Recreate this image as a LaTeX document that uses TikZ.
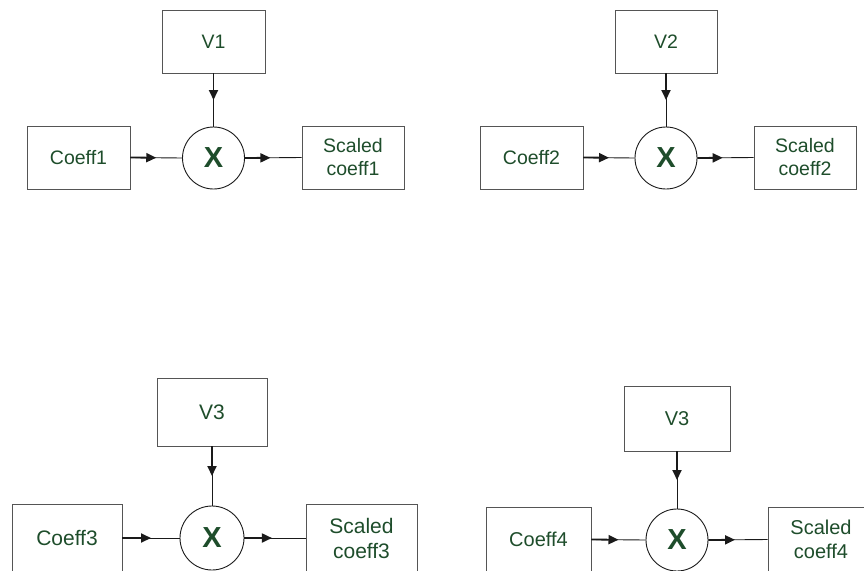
\documentclass[tikz,border=0pt]{standalone}
\usepackage{fontspec}
\setmainfont{Liberation Sans}
\usetikzlibrary{arrows.meta,calc}
\definecolor{labelgreen}{HTML}{1E4D2B}
\definecolor{framegray}{HTML}{555555}
\definecolor{wire}{HTML}{1A1A1A}
\tikzset{
  blk/.style args={#1x#2}{draw=framegray, line width=0.9pt, minimum width=#1pt,
    minimum height=#2pt, inner sep=0pt, text=labelgreen, align=center},
  mult/.style={circle, draw=wire, line width=0.9pt, minimum size=#1pt, inner sep=0pt,
    text=labelgreen, font=\bfseries\fontsize{29}{29}\selectfont},
  txtA/.style={font=\fontsize{19.5}{23}\selectfont},
  txtB/.style={font=\fontsize{21}{25}\selectfont},
  txtC/.style={font=\fontsize{20}{24}\selectfont},
  thinwire/.style={draw=wire, line width=0.9pt},
  thickwire/.style={draw=wire, line width=1.8pt, -{Triangle[length=10pt,width=9pt]}}
}
% signal line: thin all the way, heavier with a tip up to the given fraction
\newcommand\feedline[3]{%
  \draw[thinwire] (#1) -- (#2);
  \draw[thickwire] (#1) -- ($(#1)!#3!(#2)$);}

\begin{document}
\begin{tikzpicture}[x=1pt, y=-1pt]
\useasboundingbox (0,0) rectangle (864,570);
\clip (0,0) rectangle (864,570);

% multiplier 1
\node[blk=103x63, txtA] (v1) at (213.5,41.5) {V1};
\node[blk=103x63, txtA] (c1) at (78.5,157.5) {Coeff1};
\node[mult=62] (m1) at (213.5,158) {X};
\node[blk=102x63, txtA] (s1) at (353,157.5) {Scaled\\coeff1};
\feedline{v1.south}{m1.north}{0.5}
\feedline{c1.east}{m1.west}{0.5}
\feedline{m1.east}{s1.west}{0.45}

% multiplier 2
\node[blk=102x63, txtA] (v2) at (666,41.5) {V2};
\node[blk=103x63, txtA] (c2) at (531.5,157.5) {Coeff2};
\node[mult=62] (m2) at (666,158) {X};
\node[blk=102x63, txtA] (s2) at (805,157.5) {Scaled\\coeff2};
\feedline{v2.south}{m2.north}{0.5}
\feedline{c2.east}{m2.west}{0.5}
\feedline{m2.east}{s2.west}{0.45}

% multiplier 3
\node[blk=110x68, txtB] (v3) at (212,412) {V3};
\node[blk=110x68, txtB] (c3) at (67,538) {Coeff3};
\node[mult=64] (m3) at (212,538) {X};
\node[blk=111x68, txtB] (s3) at (361.5,538) {Scaled\\coeff3};
\feedline{v3.south}{m3.north}{0.5}
\feedline{c3.east}{m3.west}{0.5}
\feedline{m3.east}{s3.west}{0.45}

% multiplier 4
\node[blk=106x65, txtC] (v4) at (677,418.5) {V3};
\node[blk=105x65, txtC] (c4) at (538.5,539.5) {Coeff4};
\node[mult=62] (m4) at (677,540) {X};
\node[blk=106x65, txtC] (s4) at (821,539.5) {Scaled\\coeff4};
\feedline{v4.south}{m4.north}{0.5}
\feedline{c4.east}{m4.west}{0.5}
\feedline{m4.east}{s4.west}{0.45}
\end{tikzpicture}
\end{document}
